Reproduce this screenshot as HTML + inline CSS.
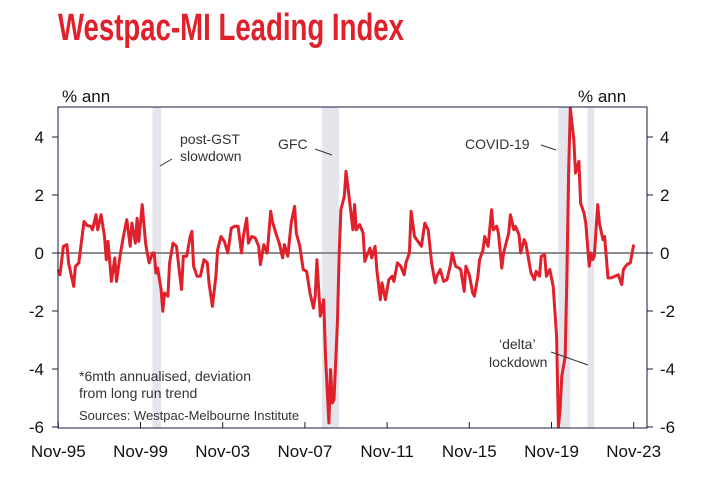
<!DOCTYPE html>
<html><head><meta charset="utf-8">
<style>
html,body{margin:0;padding:0;background:#fff;}
svg{display:block;font-family:"Liberation Sans",Arial,sans-serif;}
</style></head>
<body>
<svg id="chart" width="707" height="493" viewBox="0 0 707 493" xmlns="http://www.w3.org/2000/svg">
<text x="58" y="40" font-size="38" font-weight="bold" fill="#e0202a" font-family="'Liberation Sans Narrow','Liberation Sans',sans-serif" textLength="346" lengthAdjust="spacingAndGlyphs">Westpac-MI Leading Index</text>
<g id="bands"></g>
<line id="zero" x1="58" x2="647" stroke="#8c8c8c" stroke-width="2"/>
<path id="series" fill="none" stroke="#e0202a" stroke-width="3" stroke-linejoin="round"/>
<rect x="58" y="107" width="589" height="321" fill="none" stroke="#1a1a40" stroke-width="1"/>
<g id="axes" font-size="17" fill="#111"></g>
<text x="62" y="102" font-size="17" fill="#111">% ann</text>
<text x="578" y="102" font-size="17" fill="#111">% ann</text>
<g font-size="14" fill="#333">
<text x="180" y="144">post-GST</text>
<text x="180" y="161">slowdown</text>
<line x1="160" y1="166" x2="172" y2="159" stroke="#333"/>
<text x="278" y="149">GFC</text>
<line x1="315" y1="149" x2="332" y2="155" stroke="#333"/>
<text x="465" y="149">COVID-19</text>
<line x1="541" y1="145" x2="556" y2="150" stroke="#333"/>
<text x="499" y="349">‘delta’</text>
<text x="489" y="367">lockdown</text>
<line x1="551" y1="352" x2="588" y2="365" stroke="#333"/>
<text x="79" y="381">*6mth annualised, deviation</text>
<text x="79" y="398">from long run trend</text>
<text x="79" y="420" font-size="13">Sources: Westpac-Melbourne Institute</text>
</g>
</svg>
<script>
// months since Nov-95
const months = [0,1,3,5,6,9,10,12,15,17,19,20,22,23,25,27,28,29,31,33,34,36,38,40,42,43,45,46,47,49,51,52,53,55,56,57,58,60,61,62,64,65,67,69,71,72,73,75,77,78,79,81,83,85,87,88,90,92,93,95,97,99,101,103,105,107,108,110,111,113,115,117,118,120,122,124,125,127,129,131,132,134,136,138,139,141,143,145,147,149,150,151,153,155,156,158,159,160,161,163,164,165,167,168,170,172,173,174,176,178,179,180,182,183,185,186,188,189,191,193,195,196,198,200,202,203,205,206,208,210,212,214,216,218,220,221,223,225,227,229,230,232,234,235,237,238,240,242,243,245,246,248,249,251,253,254,256,257,259,260,261,263,264,266,267,269,270,272,273,274,276,278,279,281,282,284,285,287,289,291,292,293,294,296,297,298,299,301,302,304,305,307,308,310,311,312,313,315,316,318,319,321,323,325,327,329,330,332,334,336];
const values = [-0.57,-0.75,0.23,0.29,-0.34,-1.15,-0.46,-0.34,1.09,0.94,0.92,0.8,1.32,0.8,1.32,0.57,-0.23,0.4,-0.98,-0.17,-0.98,-0.11,0.57,1.15,0.23,1.03,0.34,1.2,0.4,1.67,0.34,0,-0.34,0,0,-0.69,-0.52,-1.26,-2.01,-1.38,-1.49,-0.34,0.34,0.23,-0.8,-1.26,-0.11,-0.11,0.57,0.75,-0.46,-0.8,-0.8,-0.23,-0.34,-1.03,-1.84,-0.8,0.11,0.57,0.4,0,0.86,0.92,0.92,0,0.57,1.2,0.34,0.57,0.52,0.23,-0.4,0.29,0,1.44,1.09,0.69,0.34,-0.17,0.29,-0.11,1.03,1.61,0.69,0.23,-0.57,-0.63,-1.38,-1.9,-1.49,-0.23,-2.18,-1.61,-3.56,-5.86,-4.02,-5.17,-5.06,-2.41,0,1.49,1.95,2.82,1.84,0.8,1.67,0.8,0.98,0.69,-0.29,-0.11,0.17,-0.17,0.23,-0.57,-1.61,-1.03,-1.61,-0.92,-0.8,-0.98,-0.34,-0.46,-0.75,-0.34,0,1.44,0.57,0.4,0.23,1.03,0.8,-0.34,-1.03,-0.8,-0.57,-0.98,-0.92,-0.4,0,-0.46,-0.52,-0.57,-1.32,-0.46,-0.75,-1.38,-1.49,-0.8,-0.23,0.11,0.57,0.23,1.49,0.8,0.92,0.69,-0.52,0,0.23,0.69,1.32,0.8,0.92,0.63,0,0.46,0.34,0,-0.69,-0.92,-0.63,-0.8,-0.11,-0.06,-0.8,-0.57,-1.15,-2.87,-6,-5.4,-4.25,-3.56,-0.8,2.76,5,3.91,2.76,3.16,1.72,1.38,1.03,-0.46,0,-0.23,-0.11,1.67,1.03,0.46,0.57,-0.86,-0.86,-0.8,-0.75,-1.09,-0.57,-0.4,-0.34,0.29];
const yTicks = [4,2,0,-2,-4,-6];
const xTickLabels = ["Nov-95","Nov-99","Nov-03","Nov-07","Nov-11","Nov-15","Nov-19","Nov-23"];
const xTickMonths = [0,48,96,144,192,240,288,336];
const bandStarts = [55,154,292,309];
const bandEnds = [60,164,299,313];

const NS="http://www.w3.org/2000/svg";
const x = m => 58.3 + m/12*20.55;
const y = v => 253 - v*29;
function mk(tag, attrs, parent){const e=document.createElementNS(NS,tag);for(const k in attrs)e.setAttribute(k,attrs[k]);parent.appendChild(e);return e;}

const bands=document.getElementById('bands');
bandStarts.forEach((s,i)=>{
  const r=mk('rect',{x:x(s),y:107,width:x(bandEnds[i])-x(s),height:321,fill:'#e5e6ed'},bands);
  
  
});
const z=document.getElementById('zero'); z.setAttribute('y1',y(0)); z.setAttribute('y2',y(0));

let d='';
months.forEach((m,i)=>{const v=Math.max(-6.1,Math.min(5,values[i]));d+=(i?'L':'M')+x(m).toFixed(1)+' '+y(v).toFixed(1);});
document.getElementById('series').setAttribute('d',d);

const ax=document.getElementById('axes');
yTicks.forEach(v=>{
  const l=mk('line',{x1:52,x2:58,y1:y(v),y2:y(v),stroke:'#1a1a40'},ax);
  
  
  const r=mk('line',{x1:647,x2:653,y1:y(v),y2:y(v),stroke:'#1a1a40'},ax);
  
  
  const t=mk('text',{x:44,y:y(v)+6,'text-anchor':'end'},ax); t.textContent=v;
  
  
  const t2=mk('text',{x:660,y:y(v)+6,'text-anchor':'start'},ax); t2.textContent=v;
  
  
});
xTickMonths.forEach((m,i)=>{
  const l=mk('line',{x1:x(m),x2:x(m),y1:422,y2:428,stroke:'#1a1a40'},ax);
  
  
  const t=mk('text',{x:x(m),y:457,'text-anchor':'middle'},ax); t.textContent=xTickLabels[i];
  
  
});
</script>
</body></html>
